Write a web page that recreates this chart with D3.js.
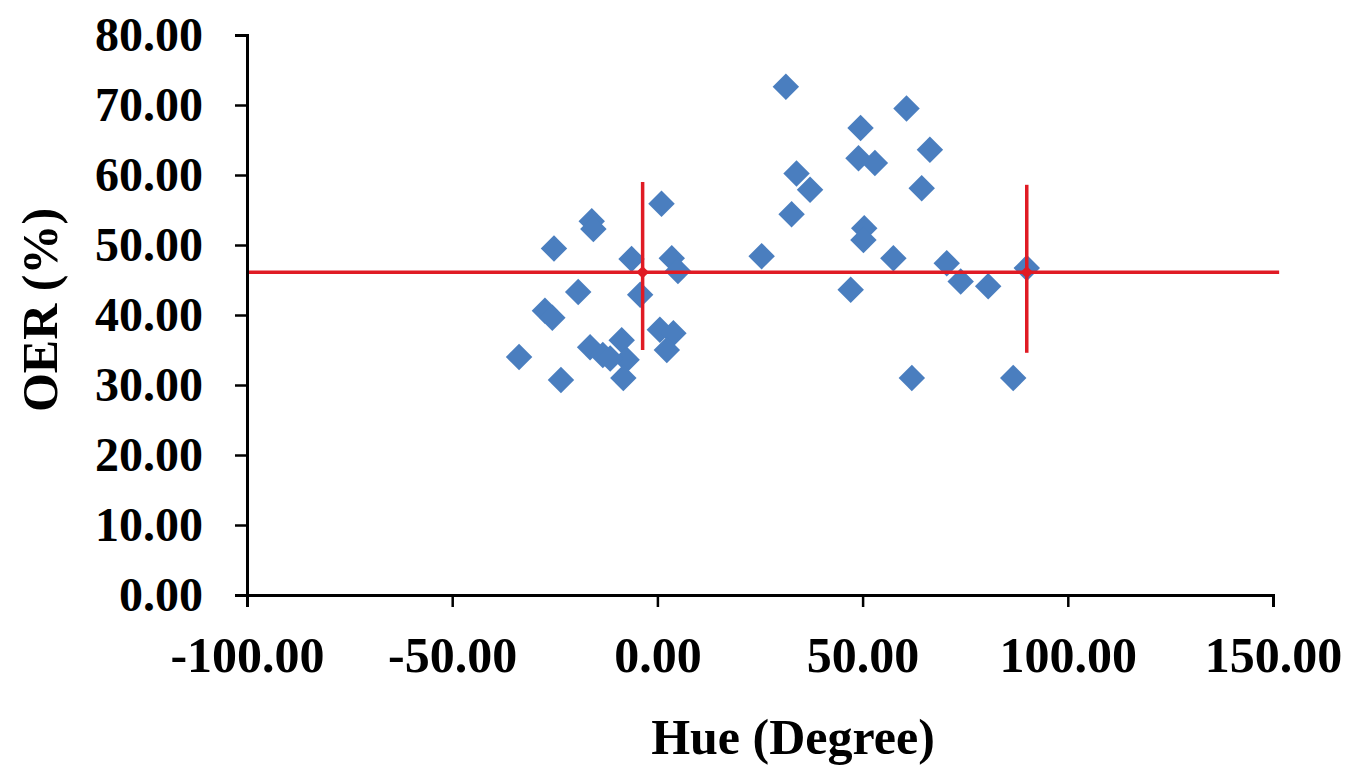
<!DOCTYPE html>
<html>
<head>
<meta charset="utf-8">
<script src="https://cdn.jsdelivr.net/npm/d3@7"></script>
<style>
  html, body { margin: 0; padding: 0; background: #fff; }
  svg { display: block; }
  .axis text { font-family: "Liberation Serif", "Times New Roman", serif; font-weight: bold; fill: #000; }
  .axis path, .axis line { stroke: #000; }
  .title { font-family: "Liberation Serif", "Times New Roman", serif; font-weight: bold; fill: #000; }
</style>
</head>
<body>
<svg id="chart" width="1353" height="775"></svg>
<script>
// Hue angle (degrees) and OER (%) for each sample
const hue = [1.0, -16.0, -15.6, -25.2, -6.3, 3.5, 5.0, -4.2, -19.3, -27.4, -25.6,
             -33.7, -23.5, -16.4, -13.3, -8.7, -7.5, -8.3, -11.5, 0.6, 3.9, 2.3,
             31.3, 60.7, 49.5, 66.4, 49.0, 53.0, 33.9, 37.2, 64.4, 32.7, 50.4,
             50.2, 25.4, 57.5, 70.5, 73.9, 80.6, 47.1, 62.0, 86.7, 90.0];
const oer = [55.9, 53.4, 52.3, 49.5, 48.0, 48.1, 46.3, 42.9, 43.3, 40.6, 39.6,
             34.0, 30.7, 35.4, 34.3, 36.4, 33.6, 31.0, 33.8, 37.9, 37.4, 35.0,
             72.6, 69.5, 66.7, 63.6, 62.4, 61.7, 60.2, 57.9, 58.1, 54.4, 52.4,
             50.7, 48.4, 48.1, 47.4, 44.8, 44.1, 43.6, 31.0, 31.0, 46.7];

// Group centres with their vertical spread
const groupHue = [-3.6, 90.0];
const groupOer = [46.1, 46.1];
const groupLow = [35.0, 34.6];
const groupHigh = [59.0, 58.6];
const meanLineFrom = -100;
const meanLineTo = 151.5;

const xTicks = [-100, -50, 0, 50, 100, 150];
const yTicks = [0, 10, 20, 30, 40, 50, 60, 70, 80];

const margin = { top: 35, right: 80, bottom: 180, left: 247 };
const width = 1353, height = 775;
const svg = d3.select("#chart");

const x = d3.scaleLinear().domain([-100, 150]).range([margin.left, width - margin.right]);
const y = d3.scaleLinear().domain([0, 80]).range([height - margin.bottom, margin.top]);

const fmt = v => d3.format(".2f")(v).replace("\u2212", "-");

// Scatter points
const points = hue.map((h, i) => ({ h, o: oer[i] }));
const diamond = d3.symbol().type(d3.symbolSquare).size(350);
svg.append("g")
  .selectAll("path")
  .data(points)
  .join("path")
  .attr("d", diamond)
  .attr("transform", d => `translate(${x(d.h)},${y(d.o)}) rotate(45)`)
  .attr("fill", "#4a7ebf");

// Mean line and group spread lines
const red = "#e01b24";
svg.append("line")
  .attr("x1", x(meanLineFrom)).attr("x2", x(meanLineTo))
  .attr("y1", y(groupOer[0])).attr("y2", y(groupOer[0]))
  .attr("stroke", red).attr("stroke-width", 3.5);

const groups = groupHue.map((h, i) => ({ h, o: groupOer[i], lo: groupLow[i], hi: groupHigh[i] }));
svg.append("g").selectAll("line")
  .data(groups)
  .join("line")
  .attr("x1", d => x(d.h)).attr("x2", d => x(d.h))
  .attr("y1", d => y(d.hi)).attr("y2", d => y(d.lo))
  .attr("stroke", red).attr("stroke-width", 3.5);

svg.append("g").selectAll("path")
  .data(groups)
  .join("path")
  .attr("d", d3.symbol().type(d3.symbolSquare).size(80))
  .attr("transform", d => `translate(${x(d.h)},${y(d.o)}) rotate(45)`)
  .attr("fill", red);

// Axes
const xAxis = svg.append("g")
  .attr("class", "axis")
  .attr("transform", `translate(0,${y(0)})`)
  .call(d3.axisBottom(x).tickValues(xTicks).tickFormat(fmt).tickSize(12).tickPadding(29));
xAxis.selectAll("text").style("font-size", "50px");

const yAxis = svg.append("g")
  .attr("class", "axis")
  .attr("transform", `translate(${x(-100)},0)`)
  .call(d3.axisLeft(y).tickValues(yTicks).tickFormat(fmt).tickSize(12).tickPadding(32));
yAxis.selectAll("text").style("font-size", "48px");

svg.selectAll(".axis path").attr("stroke-width", 3);
svg.selectAll(".axis line").attr("stroke-width", 2.5);

// Axis titles
svg.append("text")
  .attr("class", "title")
  .attr("x", 793).attr("y", 754)
  .attr("text-anchor", "middle")
  .style("font-size", "50px")
  .text("Hue (Degree)");

svg.append("text")
  .attr("class", "title")
  .attr("transform", "translate(57,310) rotate(-90)")
  .attr("text-anchor", "middle")
  .style("font-size", "50px")
  .text("OER (%)");
</script>
</body>
</html>
